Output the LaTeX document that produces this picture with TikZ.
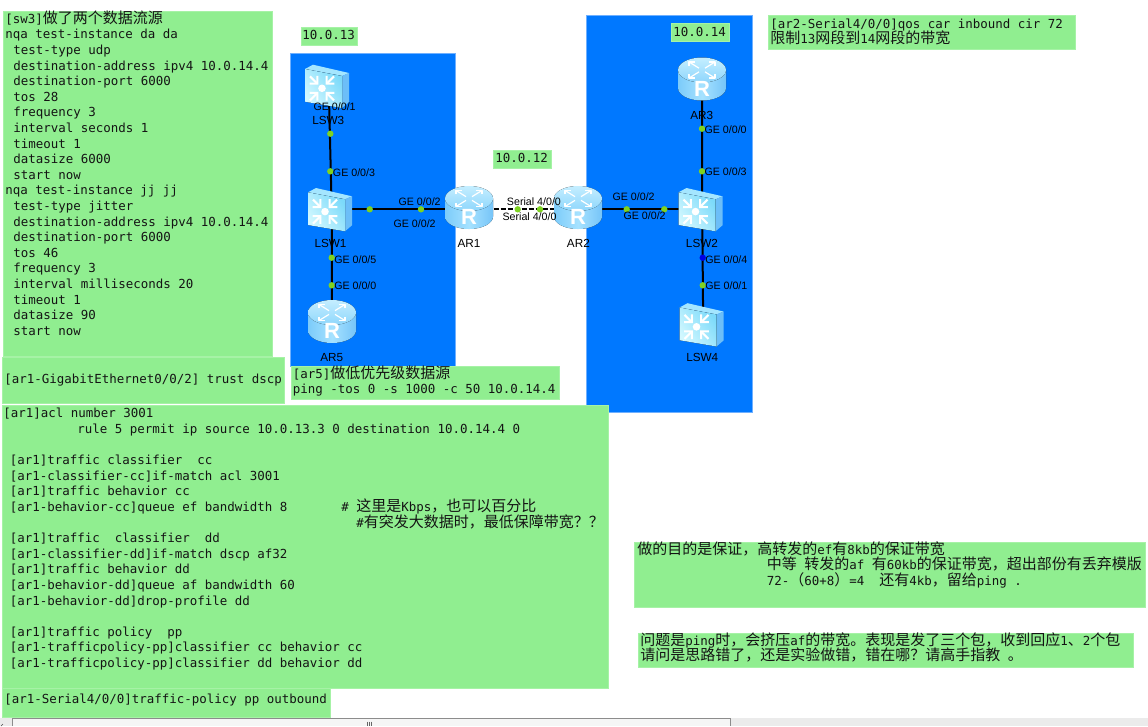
\documentclass[tikz,border=0pt]{standalone}
\usepackage{fontspec}
\setmainfont{Liberation Sans}
\setmonofont{DejaVu Sans Mono}
\newfontfamily\cjkfont{Noto Sans CJK SC}
\newdimen\pxu \pxu=0.75pt
\newcommand\zh[1]{{\fontsize{11.25pt}{11.7pt}\cjkfont #1}}
\newcommand\pad[1]{\hspace*{#1\pxu}}
\definecolor{panel}{HTML}{90EE90}
\definecolor{panelrim}{HTML}{A6F2A6}
\definecolor{zone}{HTML}{0078FF}
\definecolor{zonerim}{HTML}{6FB0FF}
\definecolor{portdot}{HTML}{7ED321}
\definecolor{rtop}{HTML}{C4EEFF}
\definecolor{rtoplow}{HTML}{8ED6FC}
\definecolor{rbodyl}{HTML}{7CCBFA}
\definecolor{rbodym}{HTML}{A6E2FF}
\definecolor{rbodyr}{HTML}{76C4F8}
\definecolor{swfront}{HTML}{D2F8FF}
\definecolor{swfrontlow}{HTML}{7CDAFA}
\definecolor{swtop}{HTML}{A4E6FF}
\definecolor{swside}{HTML}{6CBEF8}
\tikzset{
  x=0.75pt,y=-0.75pt,
  greenbox/.style={fill=panel,draw=panelrim,line width=0.5pt},
  zonebox/.style={fill=zone,draw=zonerim,line width=0.6pt},
  codetext/.style={font=\ttfamily\fontsize{9.35pt}{11.7pt}\selectfont,align=left,inner sep=0pt,anchor=north west,text=black!92},
  devbox/.style={inner sep=0pt,minimum size=26pt},
  link/.style={line width=1.5pt,black},
  seriallink/.style={line width=1.5pt,black,dash pattern=on 3.75pt off 1.5pt},
  portdotg/.style={circle,fill=portdot,inner sep=0pt,minimum size=4.8pt},
  portdotb/.style={circle,fill=blue!90!black,inner sep=0pt,minimum size=4.8pt},
  portlabel/.style={font=\fontsize{8pt}{9pt}\selectfont,inner sep=0pt,anchor=west},
  devlabel/.style={font=\fontsize{8.8pt}{10pt}\selectfont,inner sep=0pt,anchor=west},
}
% router icon, drawn round the named device node
\newcommand\routericon[1]{%
  \begin{scope}[shift={(#1.center)},yshift=2.1pt]
    \fill[left color=rbodyl,right color=rbodyr,middle color=rbodym]
      (-24,-8) -- (-24,10) arc[start angle=180,end angle=0,x radius=24,y radius=12.5] -- (24,-8) -- cycle;
    \fill[top color=rtop,bottom color=rtoplow]
      (0,-8) ellipse[x radius=24,y radius=12.5];
    \foreach \a in {0,90,180,270}{
      \begin{scope}[shift={(0,-8)},yscale=0.62,rotate=\a]
        \draw[white,line width=0.9pt,line join=round] (3,-3) -- (12,-12);
        \draw[white,line width=0.9pt,line join=round] (7,-13) -- (13,-13) -- (13,-7);
      \end{scope}}
    \node[inner sep=0pt,text=white,font=\bfseries\fontsize{16.5pt}{17pt}\selectfont] at (0,10.5) {R};
  \end{scope}}
% switch icon, drawn round the named device node
\newcommand\switchicon[1]{%
  \begin{scope}[shift={(#1.center)},xshift=-1.65pt,yshift=0.75pt]
    \fill[swtop] (-21.5,-16) -- (-13.5,-20.3) -- (22.5,-12) -- (15.5,-9) -- cycle;
    \fill[swside] (15.5,-9) -- (22.5,-12) -- (22.5,17) -- (15.5,23) -- cycle;
    \fill[left color=swfront,right color=swfrontlow,shading angle=125]
      (-21.5,-16) -- (15.5,-9) -- (15.5,23) -- (-21.5,16.7) -- cycle;
    \fill[white] (-4.5,3.3) circle[radius=3.8];
    \foreach \a in {45,135,225,315}{
      \begin{scope}[shift={(-4.5,3.3)},rotate=\a]
        \draw[white,line width=1.6pt] (7,0) -- (17,0);
        \draw[white,line width=1.5pt,line join=miter] (12,-5.5) -- (6.5,0) -- (12,5.5);
      \end{scope}}
  \end{scope}}
\begin{document}
\begin{tikzpicture}
\useasboundingbox (0,0) rectangle (1148,726);
\fill[white] (0,0) rectangle (1148,726);

% address zones
\draw[zonebox] (290.5,53) rectangle (455.5,366);
\draw[zonebox] (586.5,15) rectangle (752,412);

% configuration panels
\draw[greenbox] (3,11) rectangle (272,356);
\draw[greenbox] (301,27) rectangle (357,45);
\draw[greenbox] (493,150) rectangle (551,168);
\draw[greenbox] (671,23) rectangle (729,41);
\draw[greenbox] (768,15) rectangle (1075,49);
\draw[greenbox] (2,357) rectangle (284,403);
\draw[greenbox] (291,366) rectangle (559,399);
\draw[greenbox] (2,405) rectangle (608,688);
\draw[greenbox] (2,688) rectangle (330,717);
\draw[greenbox] (634,542) rectangle (1145,607);
\draw[greenbox] (638,633) rectangle (1133,667);

% devices
\node[devbox] (lsw3) at (328.7,86) {};
\node[devbox] (lsw1) at (331.7,209.3) {};
\node[devbox] (ar5) at (332,323.3) {};
\node[devbox] (ar1) at (469,209.3) {};
\node[devbox] (ar2) at (578,209.3) {};
\node[devbox] (ar3) at (702,80.8) {};
\node[devbox] (lsw2) at (702.2,209.3) {};
\node[devbox] (lsw4) at (703.2,324.5) {};

% links
\draw[link] (lsw3) -- (lsw1);
\draw[link] (lsw1) -- (ar5);
\draw[link] (lsw1) -- (ar1);
\draw[seriallink] (ar1) -- (ar2);
\draw[link] (ar2) -- (lsw2);
\draw[link] (ar3) -- (lsw2);
\draw[link] (lsw2) -- (lsw4);

\routericon{ar5}\routericon{ar1}\routericon{ar2}\routericon{ar3}
\switchicon{lsw3}\switchicon{lsw1}\switchicon{lsw2}\switchicon{lsw4}

% port markers
\foreach \n/\px/\py in {a/330.3/133.7,b/330.3/171.3,c/369.7/209.3,d/421/209.3,e/517.7/209.3,f/540/209.3,
  g/331.7/257.7,h/331.7/285.3,i/702/128.7,j/702/171.3,k/626.7/209.3,l/664.3/209.3,n/702.7/285.3}
  \node[portdotg] (port\n) at (\px,\py) {};
\node[portdotb] (portm) at (702.7,257.7) {};

% port labels
\node[portlabel] (l1) at (313.3,106.7) {GE 0/0/1};
\node[portlabel] (l2) at (332.7,172.3) {GE 0/0/3};
\node[portlabel] (l3) at (398.3,202) {GE 0/0/2};
\node[portlabel] (l4) at (393.3,224) {GE 0/0/2};
\node[portlabel] (l5) at (506.7,202) {Serial 4/0/0};
\node[portlabel] (l6) at (502.3,216.7) {Serial 4/0/0};
\node[portlabel] (l7) at (334,259.3) {GE 0/0/5};
\node[portlabel] (l8) at (334,286) {GE 0/0/0};
\node[portlabel] (l9) at (612.3,197) {GE 0/0/2};
\node[portlabel] (l10) at (623.3,216) {GE 0/0/2};
\node[portlabel] (l11) at (704.3,130) {GE 0/0/0};
\node[portlabel] (l12) at (704.3,172) {GE 0/0/3};
\node[portlabel] (l13) at (705,259.3) {GE 0/0/4};
\node[portlabel] (l14) at (705,286) {GE 0/0/1};

% device labels
\node[devlabel] (n1) at (312,120) {LSW3};
\node[devlabel] (n2) at (314.3,243.3) {LSW1};
\node[devlabel] (n3) at (457.3,243.3) {AR1};
\node[devlabel] (n4) at (320,357.7) {AR5};
\node[devlabel] (n5) at (566.7,243.3) {AR2};
\node[devlabel] (n6) at (685.7,243.3) {LSW2};
\node[devlabel] (n7) at (690,115) {AR3};
\node[devlabel] (n8) at (686,357.7) {LSW4};

% subnet tags
\node[codetext] (net13) at (302,30) {10.0.13};
\node[codetext] (net12) at (495,153) {10.0.12};
\node[codetext] (net14) at (673,26.5) {10.0.14};

% configuration listings
\node[codetext] (nqa) at (5,10.5) {[sw3]\zh{做了两个数据流源}\\
nqa test-instance da da\\
\pad{8}test-type udp\\
\pad{8}destination-address ipv4 10.0.14.4\\
\pad{8}destination-port 6000\\
\pad{8}tos 28\\
\pad{8}frequency 3\\
\pad{8}interval seconds 1\\
\pad{8}timeout 1\\
\pad{8}datasize 6000\\
\pad{8}start now\\
nqa test-instance jj jj\\
\pad{8}test-type jitter\\
\pad{8}destination-address ipv4 10.0.14.4\\
\pad{8}destination-port 6000\\
\pad{8}tos 46\\
\pad{8}frequency 3\\
\pad{8}interval milliseconds 20\\
\pad{8}timeout 1\\
\pad{8}datasize 90\\
\pad{8}start now};
\node[codetext] (trust) at (4,373.5) {[ar1-GigabitEthernet0/0/2] trust dscp};
\node[codetext] (ping) at (292.5,365.5) {[ar5]\zh{做低优先级数据源}\\ping -tos 0 -s 1000 -c 50 10.0.14.4};
\node[codetext] (car) at (770,18.5) {[ar2-Serial4/0/0]qos car inbound cir 72\\\zh{限制}13\zh{网段到}14\zh{网段的带宽}};
\node[codetext] (acl) at (3,408) {[ar1]acl number 3001\\
\pad{74}rule 5 permit ip source 10.0.13.3 0 destination 10.0.14.4 0\\
\strut\\
\pad{6.5}[ar1]traffic classifier~~cc\\
\pad{6.5}[ar1-classifier-cc]if-match acl 3001\\
\pad{6.5}[ar1]traffic behavior cc\\
\pad{6.5}[ar1-behavior-cc]queue ef bandwidth 8\\
\strut\\
\pad{6.5}[ar1]traffic~~classifier~~dd\\
\pad{6.5}[ar1-classifier-dd]if-match dscp af32\\
\pad{6.5}[ar1]traffic behavior dd\\
\pad{6.5}[ar1-behavior-dd]queue af bandwidth 60\\
\pad{6.5}[ar1-behavior-dd]drop-profile dd\\
\strut\\
\pad{6.5}[ar1]traffic policy~~pp\\
\pad{6.5}[ar1-trafficpolicy-pp]classifier cc behavior cc\\
\pad{6.5}[ar1-trafficpolicy-pp]classifier dd behavior dd};
\node[codetext] (pol) at (4,693.5) {[ar1-Serial4/0/0]traffic-policy pp outbound};
\node[codetext] (note1) at (341,499) {\#\pad{7.5}\zh{这里是}Kbps\zh{，也可以百分比}\\\pad{15}\#\zh{有突发大数据时，最低保障带宽？？}};
\node[codetext] (goal) at (637,541) {\zh{做的目的是保证，高转发的}ef\zh{有}8kb\zh{的保证带宽}\\
\pad{129.5}\zh{中等}~\zh{转发的}af~\zh{有}60kb\zh{的保证带宽，超出部份有丢弃模版}\\
\pad{129.5}72-\zh{（}60+8\zh{）}=4~~\zh{还有}4kb\zh{，留给}ping~.};
\node[codetext] (ask) at (640,632) {\zh{问题是}ping\zh{时，会挤压}af\zh{的带宽。表现是发了三个包，收到回应}1\zh{、}2\zh{个包}\\
\zh{请问是思路错了，还是实验做错，错在哪？请高手指教}~\zh{。}};

% window scrollbar along the lower edge
\fill[black!8] (0,718) rectangle (1148,726);
\fill[black!4] (12,718.3) rectangle (730,726);
\draw[black!45,line width=0.6pt] (12,726) -- (12,718.3) -- (730,718.3) -- (730,726);
\draw[black!60,line width=0.5pt] (367.5,721.5) -- (367.5,726) (369.5,721.5) -- (369.5,726) (371.5,721.5) -- (371.5,726);
\draw[black!70,line width=0.5pt] (3,724) -- (1,726);
\end{tikzpicture}
\end{document}
